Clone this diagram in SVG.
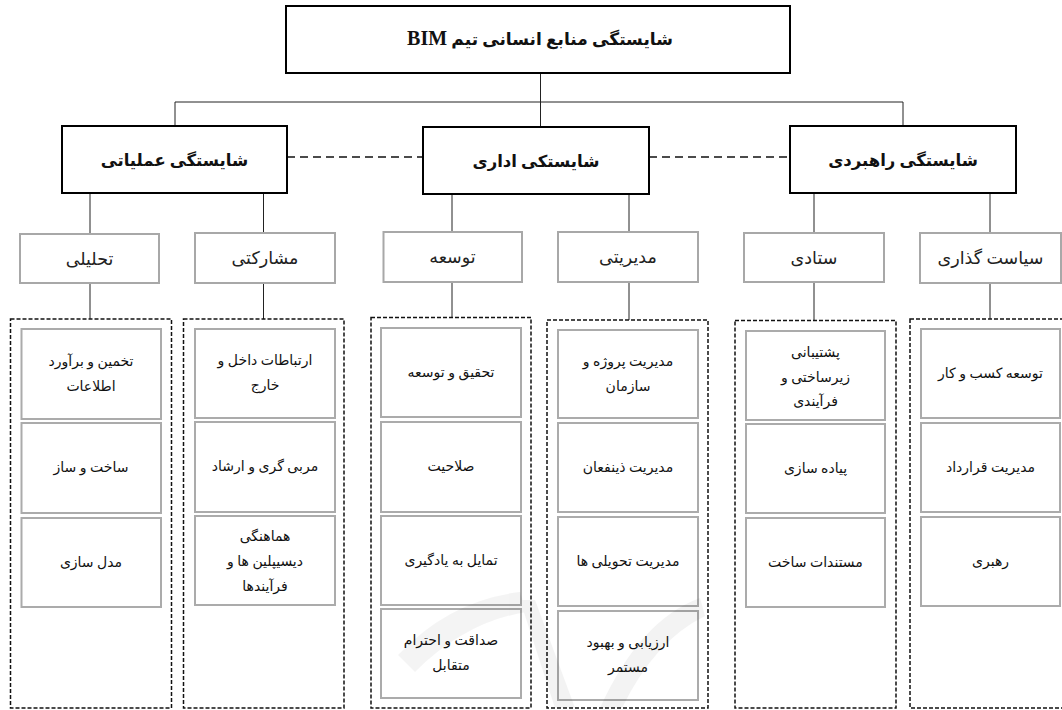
<svg xmlns="http://www.w3.org/2000/svg" width="1062" height="710" viewBox="0 0 1062 710">
<style>
.main{fill:#fff;stroke:#000;stroke-width:2}
.l3{fill:#fff;stroke:#a8a8a8;stroke-width:2}
.item{fill:#fff;stroke:#ababab;stroke-width:2}
.cont{fill:none;stroke:#111;stroke-width:1.5;stroke-dasharray:4 2}
.conn{fill:none;stroke:#222;stroke-width:1}
.dash{fill:none;stroke:#111;stroke-width:1.5;stroke-dasharray:8 5}
text{font-family:"Liberation Serif","DejaVu Sans",serif;text-anchor:middle;direction:rtl;fill:#111}
.t1{font-size:17px;font-weight:bold}
.t2{font-size:16.5px;font-weight:bold}
.t3{font-size:17.5px;fill:#222}
.t4{font-size:14px}
</style>
<rect width="1062" height="710" fill="#fff"/>
<g id="connectors">
<path class="conn" d="M540.5 73V102M175 102H903M175 102V126M903 102V126M540.5 102V127"/>
<path class="dash" d="M287 157H423M649 157H790"/>
<path class="conn" d="M90 193V234M263.5 193V233M452 194V232M629 194V232M814 193V233M990 193V233"/>
<path class="conn" d="M90 283V319M263.5 283V319M452 282V317.5M629 282V320M814 283V320.5M990 283V319"/>
</g>
<g id="root"><rect class="main" x="286" y="6" width="504" height="67"/><text class="t1" x="540" y="45">شایستگی منابع انسانی تیم <tspan font-size="20">BIM</tspan></text></g>
<g id="amaliati"><rect class="main" x="62" y="126" width="225" height="67"/><text class="t2" x="174.5" y="166">شایستگی عملیاتی</text></g>
<g id="edari"><rect class="main" x="423" y="127" width="226" height="67"/><text class="t2" x="536" y="167">شایستکی اداری</text></g>
<g id="rahbordi"><rect class="main" x="790" y="126" width="226" height="67"/><text class="t2" x="903" y="166">شایستگی راهبردی</text></g>

<g id="tahlili"><rect class="l3" x="20" y="234" width="139" height="49"/><text class="t3" x="89.5" y="265">تحلیلی</text></g>
<g id="mosharekati"><rect class="l3" x="195" y="233" width="140" height="50"/><text class="t3" x="265" y="264">مشارکتی</text></g>
<g id="tosee"><rect class="l3" x="383.5" y="232" width="138.5" height="50"/><text class="t3" x="452.5" y="263">توسعه</text></g>
<g id="modiriati"><rect class="l3" x="558" y="232" width="140" height="50"/><text class="t3" x="628" y="263">مدیریتی</text></g>
<g id="setadi"><rect class="l3" x="744" y="233" width="140" height="49"/><text class="t3" x="814" y="264">ستادی</text></g>
<g id="siasat"><rect class="l3" x="920" y="233" width="141" height="50"/><text class="t3" x="990.5" y="264">سیاست گذاری</text></g>

<g id="col1">
<rect class="cont" x="10.5" y="319" width="161" height="389"/>
<rect class="item" x="21.5" y="329" width="139.5" height="90"/><text class="t4" x="91" y="366">تخمین و برآورد</text><text class="t4" x="91" y="391">اطلاعات</text>
<rect class="item" x="21.5" y="423" width="139.5" height="90"/><text class="t4" x="91" y="472">ساخت و ساز</text>
<rect class="item" x="21.5" y="518" width="139.5" height="89"/><text class="t4" x="91" y="567">مدل سازی</text>
</g>
<g id="col2">
<rect class="cont" x="183.5" y="319" width="160.5" height="389"/>
<rect class="item" x="195" y="329" width="140" height="89"/><text class="t4" x="265" y="365">ارتباطات داخل و</text><text class="t4" x="265" y="390">خارج</text>
<rect class="item" x="195" y="422" width="140" height="90"/><text class="t4" x="265" y="471">مربی گری و ارشاد</text>
<rect class="item" x="195" y="516" width="140" height="89"/><text class="t4" x="265" y="541">هماهنگی</text><text class="t4" x="265" y="566">دیسیپلین ها و</text><text class="t4" x="265" y="591">فرآیندها</text>
</g>
<g id="col3">
<rect class="cont" x="371" y="317.5" width="160" height="390.5"/>
<rect class="item" x="381" y="328" width="140" height="89"/><text class="t4" x="451" y="377">تحقیق و توسعه</text>
<rect class="item" x="381" y="422" width="140" height="90"/><text class="t4" x="451" y="471">صلاحیت</text>
<rect class="item" x="381" y="516" width="140" height="89"/><text class="t4" x="451" y="565">تمایل به یادگیری</text>
<rect class="item" x="381" y="609" width="140" height="89"/><text class="t4" x="451" y="645">صداقت و احترام</text><text class="t4" x="451" y="670">متقابل</text>
</g>
<g id="col4">
<rect class="cont" x="547" y="320" width="161" height="388"/>
<rect class="item" x="558" y="330" width="140" height="88"/><text class="t4" x="628" y="366">مدیریت پروژه و</text><text class="t4" x="628" y="391">سازمان</text>
<rect class="item" x="558" y="423" width="140" height="89"/><text class="t4" x="628" y="472">مدیریت ذینفعان</text>
<rect class="item" x="558" y="517" width="140" height="89"/><text class="t4" x="628" y="566">مدیریت تحویلی ها</text>
<rect class="item" x="558" y="611" width="140" height="89"/><text class="t4" x="628" y="647">ارزیابی و بهبود</text><text class="t4" x="628" y="672">مستمر</text>
</g>
<g id="col5">
<rect class="cont" x="735" y="320.5" width="161" height="387.5"/>
<rect class="item" x="746" y="331" width="139" height="89"/><text class="t4" x="815.5" y="357">پشتیبانی</text><text class="t4" x="815.5" y="382">زیرساختی و</text><text class="t4" x="815.5" y="406">فرآیندی</text>
<rect class="item" x="746" y="424" width="139" height="89"/><text class="t4" x="815.5" y="473">پیاده سازی</text>
<rect class="item" x="746" y="518" width="139" height="89"/><text class="t4" x="815.5" y="567">مستندات ساخت</text>
</g>
<g id="col6">
<rect class="cont" x="910" y="319" width="162" height="389"/>
<rect class="item" x="921" y="329" width="139" height="89"/><text class="t4" x="990.5" y="378">توسعه کسب و کار</text>
<rect class="item" x="921" y="423" width="139" height="89"/><text class="t4" x="990.5" y="472">مدیریت قرارداد</text>
<rect class="item" x="921" y="517" width="139" height="89"/><text class="t4" x="990.5" y="566">رهبری</text>
</g>
<g id="watermark" opacity="0.045" fill="#000">
<path d="M398 655Q450 600 520 592L526 612Q465 622 415 672Z"/>
<path d="M520 600L535 600L575 708L555 708Z"/>
<path d="M600 708Q640 620 700 598L705 616Q655 640 622 708Z"/>
</g>
</svg>
